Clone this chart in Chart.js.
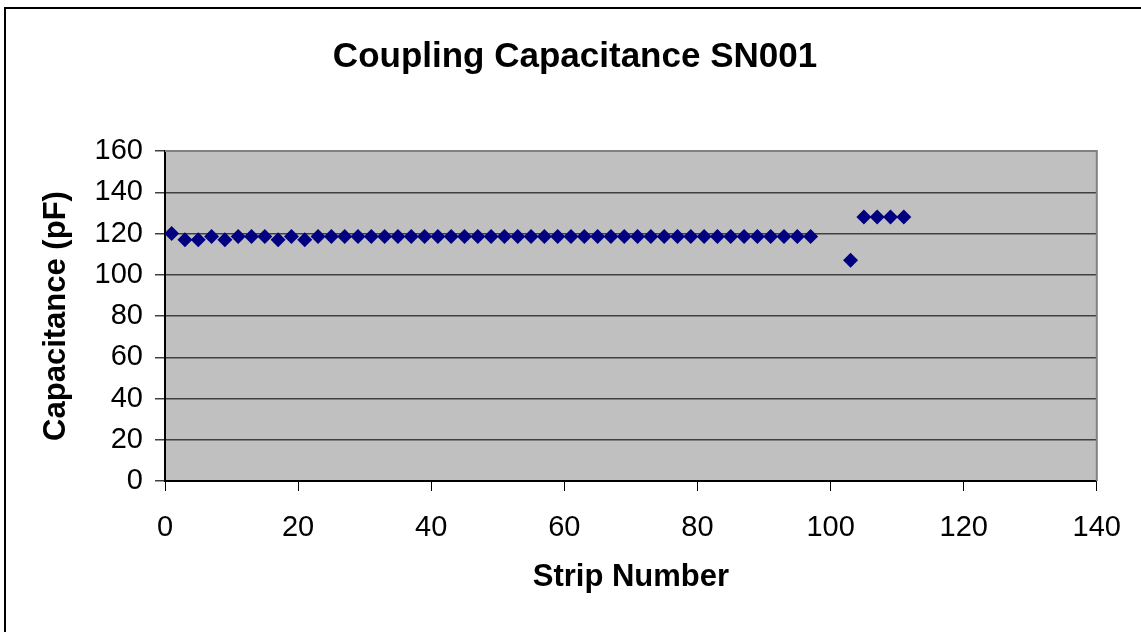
<!DOCTYPE html>
<html>
<head>
<meta charset="utf-8">
<title>Coupling Capacitance SN001</title>
<script src="https://cdn.jsdelivr.net/npm/chart.js@4/dist/chart.umd.min.js"></script>
<style>
  html, body { margin: 0; padding: 0; background: #fff; }
  #wrap { width: 1141px; height: 632px; }
</style>
</head>
<body>
<div id="wrap"><canvas id="capChart" width="1141" height="632"></canvas></div>
<script>
// values
const stripNumbers = [
  1, 3, 5, 7, 9, 11, 13, 15, 17, 19, 21, 23, 25, 27, 29, 31, 33,
  35, 37, 39, 41, 43, 45, 47, 49, 51, 53, 55, 57, 59, 61, 63, 65,
  67, 69, 71, 73, 75, 77, 79, 81, 83, 85, 87, 89, 91, 93, 95, 97,
  103, 105, 107, 109, 111
];
const capacitance = [
  120, 117, 117, 118.5, 117, 118.5, 118.5, 118.5, 117, 118.5, 117, 118.5, 118.5, 118.5, 118.5, 118.5, 118.5,
  118.5, 118.5, 118.5, 118.5, 118.5, 118.5, 118.5, 118.5, 118.5, 118.5, 118.5, 118.5, 118.5, 118.5, 118.5, 118.5,
  118.5, 118.5, 118.5, 118.5, 118.5, 118.5, 118.5, 118.5, 118.5, 118.5, 118.5, 118.5, 118.5, 118.5, 118.5, 118.5,
  107, 128, 128, 128, 128
];
const xTicks = [0, 20, 40, 60, 80, 100, 120, 140];
const yTicks = [0, 20, 40, 60, 80, 100, 120, 140, 160];

const FONT = "'Liberation Sans', Arial, sans-serif";

const points = stripNumbers.map((x, i) => ({ x: x, y: capacitance[i] }));

// grey plot area, outer chart frame and the grey top/right plot edges
const frame = {
  id: "frame",
  beforeDraw(chart) {
    const { ctx, chartArea: a } = chart;
    ctx.save();
    ctx.fillStyle = "#c0c0c0";
    ctx.fillRect(a.left, a.top, a.right - a.left, a.bottom - a.top);
    ctx.strokeStyle = "#000";
    ctx.lineWidth = 2;
    ctx.strokeRect(5, 8, 1300, 800);
    ctx.restore();
  },
  afterDraw(chart) {
    const { ctx, chartArea: a } = chart;
    ctx.save();
    ctx.strokeStyle = "#808080";
    ctx.lineWidth = 2;
    ctx.beginPath();
    ctx.moveTo(a.left, a.top);
    ctx.lineTo(a.right, a.top);
    ctx.lineTo(a.right, a.bottom);
    ctx.stroke();
    ctx.restore();
  }
};

new Chart(document.getElementById("capChart"), {
  type: "scatter",
  data: {
    datasets: [
      {
        label: "Capacitance",
        data: points,
        pointStyle: "rectRot",
        pointRadius: 7.5,
        pointHoverRadius: 7.5,
        backgroundColor: "#000080",
        borderColor: "#000080",
        borderWidth: 0,
      },
    ],
  },
  options: {
    responsive: false,
    animation: false,
    layout: { padding: { left: 9, right: 0, top: 0, bottom: 0 } },
    plugins: {
      legend: { display: false },
      tooltip: { enabled: false },
      title: {
        display: true,
        text: "Coupling Capacitance SN001",
        color: "#000",
        font: { family: FONT, size: 35, weight: "bold", lineHeight: 1.2 },
        padding: { top: 36, bottom: 73 },
      },
    },
    scales: {
      x: {
        type: "linear",
        min: 0,
        max: 140,
        afterBuildTicks: (s) => { s.ticks = xTicks.map((v) => ({ value: v })); },
        afterFit: (s) => { s.height = 151; },
        grid: { drawOnChartArea: false, drawTicks: true, tickLength: 10, color: "#000", lineWidth: 1 },
        border: { display: true, color: "#000", width: 2 },
        ticks: { color: "#000", padding: 20, maxRotation: 0, font: { family: FONT, size: 29 } },
        title: {
          display: true,
          text: "Strip Number",
          color: "#000",
          font: { family: FONT, size: 31, weight: "bold", lineHeight: 1.2 },
          padding: { top: 0, bottom: 36 },
        },
      },
      y: {
        type: "linear",
        min: 0,
        max: 160,
        afterBuildTicks: (s) => { s.ticks = yTicks.map((v) => ({ value: v })); },
        afterFit: (s) => { s.width = 156; },
        grid: { drawTicks: true, tickLength: 10, color: "#404040", lineWidth: 1.5 },
        border: { display: true, color: "#000", width: 2 },
        ticks: { color: "#000", padding: 12, font: { family: FONT, size: 29 } },
        title: {
          display: true,
          text: "Capacitance (pF)",
          color: "#000",
          font: { family: FONT, size: 31, weight: "bold", lineHeight: 1.2 },
          padding: { top: 29, bottom: 0 },
        },
      },
      // empty right-hand strip so the title centres on the whole chart
      yRight: {
        type: "linear",
        position: "right",
        display: true,
        afterFit: (s) => { s.width = 43; },
        grid: { display: false },
        border: { display: false },
        ticks: { display: false },
      },
    },
  },
  plugins: [frame],
});
</script>
</body>
</html>
